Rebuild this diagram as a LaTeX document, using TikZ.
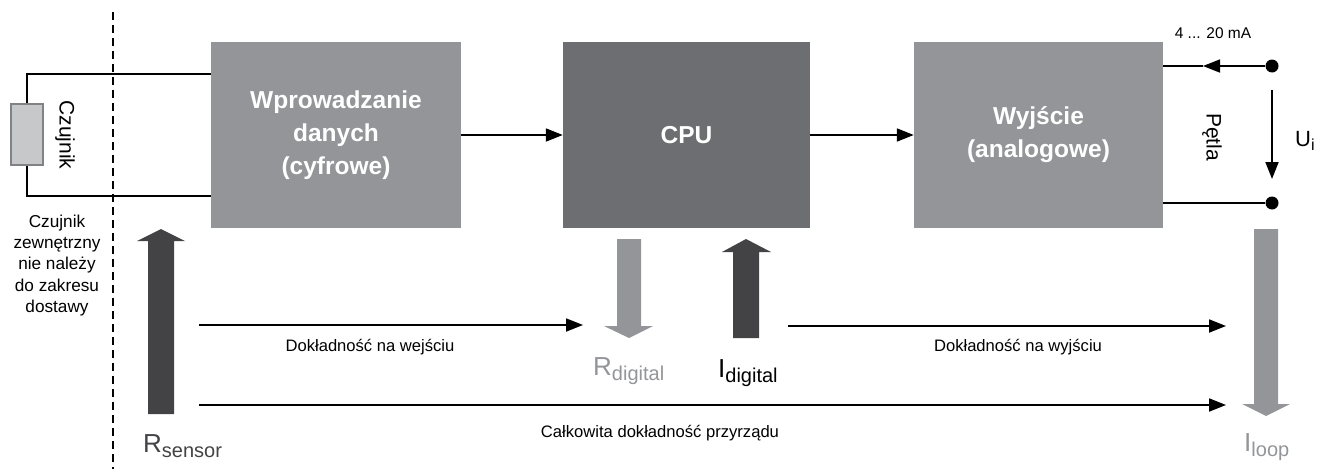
\documentclass[tikz,border=0pt]{standalone}
\usepackage{fontspec}
\setmainfont{Liberation Sans}
\usetikzlibrary{arrows.meta}
\definecolor{boxgray}{HTML}{939598}
\definecolor{cpugray}{HTML}{6D6E71}
\definecolor{darkarr}{HTML}{434345}
\definecolor{sensfill}{HTML}{C7C8CA}
\definecolor{sensdraw}{HTML}{808285}
\newcommand{\fs}[2]{\fontsize{#1}{#2}\selectfont}
\newcommand{\bigsub}[2]{{\fs{26}{26}#1}\raisebox{-5pt}{\fs{20}{20}#2}}
\tikzset{
  blockbox/.style={fill=#1, draw=none, minimum width=250pt, minimum height=186pt, text=white, font=\bfseries\fs{24.5}{33}, align=center, inner sep=0pt},
  wire/.style={line width=1.8pt, black},
  arr/.style={line width=1.8pt, black, -{Triangle[length=17pt,width=13pt]}},
  small/.style={font=\fs{16.6}{21}, align=center, inner sep=0pt},
  mid/.style={font=\fs{21}{21}, inner sep=0pt},
  dot/.style={circle, fill=black, minimum size=13pt, inner sep=0pt},
}
\begin{document}
\begin{tikzpicture}[x=1pt,y=-1pt]
\useasboundingbox (0,0) rectangle (1317,469);
% dashed boundary
\draw[line width=2.6pt, dash pattern=on 8pt off 5pt] (113,12) -- (113,469);
% blocks
\node[blockbox=boxgray] (b1) at (336,135) {Wprowadzanie\\danych\\(cyfrowe)};
\node[blockbox=cpugray, minimum width=247pt] (cpu) at (686.5,135) {CPU};
\node[blockbox=boxgray, minimum width=249pt] (b3) at (1038.5,135) {Wyjście\\(analogowe)};
% sensor
\node[draw=sensdraw, fill=sensfill, line width=2pt, minimum width=32pt, minimum height=61pt, inner sep=0pt] (sens) at (27,134.5) {};
\coordinate (w1) at (211,74);
\coordinate (w2) at (211,196);
\draw[wire] (sens.north) |- (w1);
\draw[wire] (sens.south) |- (w2);
\node[mid, rotate=-90] (czlab) at (65,135) {Czujnik};
\node[small, font=\fs{17.2}{21.2}] (ext) at (57,265.5) {Czujnik\\zewnętrzny\\nie należy\\do zakresu\\dostawy};
% block connections
\draw[arr] (b1.east) -- (cpu.west);
\draw[arr] (cpu.east) -- (b3.west);
% loop
\node[dot] (d1) at (1272,66) {};
\node[dot] (d2) at (1272,203) {};
\coordinate (t1) at (1163,66);
\coordinate (t2) at (1163,203);
\coordinate (th) at (1203,66);
\draw[arr] (d1) -- (th);
\draw[wire] (th) -- (t1);
\draw[wire] (d2) -- (t2);
\coordinate (u1) at (1272,90);
\coordinate (u2) at (1272,179);
\draw[arr] (u1) -- (u2);
\node[font=\fs{15.5}{15.5}, inner sep=0pt, anchor=base] (ma) at (1213,38) {4 ... 20 mA};
\node[mid, rotate=-90] (petla) at (1212,137) {Pętla};
\node[anchor=base west, inner sep=0pt] (ui) at (1295,146) {{\fs{22}{22}U}\raisebox{-4pt}{\fs{16}{16}i}};
% thick arrows
\fill[darkarr] (148,414) -- (148,241) -- (137,241) -- (161,229) -- (185,241) -- (174,241) -- (174,414) -- cycle;
\fill[boxgray] (617,239) -- (617,326) -- (604,326) -- (629,338) -- (653,326) -- (641,326) -- (641,239) -- cycle;
\fill[darkarr] (733,338) -- (733,252) -- (722,252) -- (746,239) -- (771,252) -- (759,252) -- (759,338) -- cycle;
\fill[boxgray] (1254,229) -- (1254,404) -- (1242,404) -- (1266,416) -- (1290,404) -- (1278,404) -- (1278,229) -- cycle;
% accuracy arrows
\coordinate (a1) at (199,325);
\coordinate (a2) at (583,325);
\coordinate (a3) at (788,326);
\coordinate (a4) at (1226,326);
\coordinate (a5) at (199,405);
\coordinate (a6) at (1226,405);
\draw[arr] (a1) -- (a2);
\draw[arr] (a3) -- (a4);
\draw[arr] (a5) -- (a6);
\node[small] (inacc) at (370,347) {Dokładność na wejściu};
\node[small] (outacc) at (1018,347) {Dokładność na wyjściu};
\node[small] (totacc) at (660,433) {Całkowita dokładność przyrządu};
% labels
\node[anchor=base west, inner sep=0pt, text=darkarr] (rs) at (143,452) {\bigsub{R}{sensor}};
\node[anchor=base west, inner sep=0pt, text=boxgray] (rd) at (593,375) {\bigsub{R}{digital}};
\node[anchor=base west, inner sep=0pt, text=black] (id) at (718,377) {\bigsub{I}{digital}};
\node[anchor=base west, inner sep=0pt, text=boxgray] (il) at (1244,451) {\bigsub{I}{loop}};
\end{tikzpicture}
\end{document}
